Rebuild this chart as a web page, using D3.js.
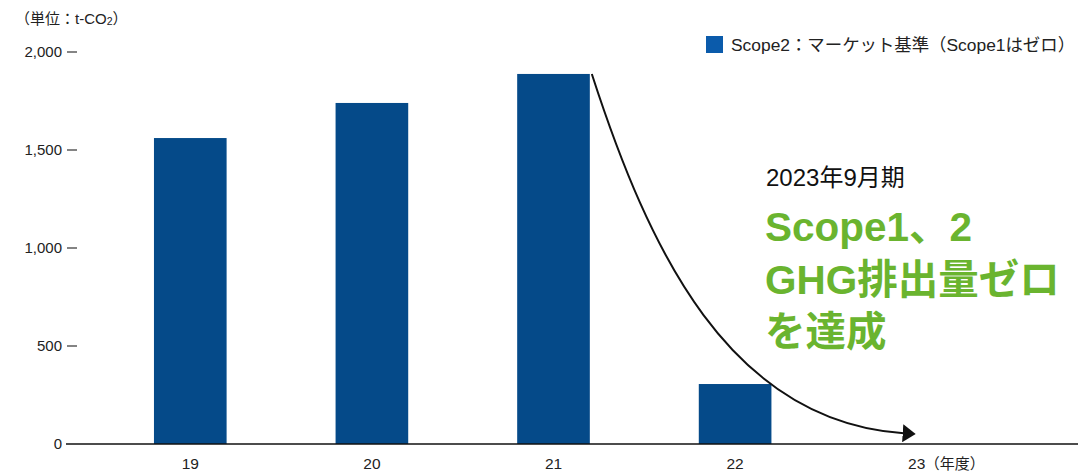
<!DOCTYPE html>
<html>
<head>
<meta charset="utf-8">
<script src="https://cdn.jsdelivr.net/npm/d3@7/dist/d3.min.js"></script>
<style>
  html, body { margin: 0; padding: 0; background: #fff; }
  svg { display: block; }
  text { font-family: "Liberation Sans", Arial, "Noto Sans CJK JP", sans-serif; }
</style>
</head>
<body>
<svg id="chart" width="1078" height="473"></svg>
<script>
// Fiscal years (last two digits) and Scope2 market-based emissions (t-CO2)
const years = ["19", "20", "21", "22", "23"];
const scope2Values = [1561, 1740, 1888, 306, 0];
const yTicks = [0, 500, 1000, 1500, 2000];
const unitLabel = "（単位：t-CO";
const legendLabel = "Scope2：マーケット基準（Scope1はゼロ）";
const periodLabel = "2023年9月期";
const headlineLines = ["Scope1、2", "GHG排出量ゼロ", "を達成"];
const yearSuffix = "（年度）";

const svg = d3.select("#chart");
const barColor = "#054a89";
const legendColor = "#0b5bab";
const green = "#6ab42f";

const x = d3.scaleBand().domain(years).range([45, 1062]).padding(0.6);
const y = d3.scaleLinear().domain([0, 2000]).range([444, 52]);

// Unit label
const unit = svg.append("text").attr("x", 15).attr("y", 24)
  .attr("font-size", 15).attr("fill", "#222");
unit.append("tspan").text(unitLabel);
unit.append("tspan").attr("font-size", 10.5).attr("dy", 1).text("2");
unit.append("tspan").attr("dy", -1).text("）");

// Y tick labels and dashes
const yg = svg.append("g");
yg.selectAll("text.tick").data(yTicks).join("text")
  .attr("class", "tick")
  .attr("x", 62).attr("y", d => y(d))
  .attr("dy", "0.36em")
  .attr("text-anchor", "end")
  .attr("font-size", 15).attr("fill", "#222")
  .text(d => d3.format(",")(d));
yg.selectAll("line").data(yTicks.filter(d => d > 0)).join("line")
  .attr("x1", 67).attr("x2", 77)
  .attr("y1", d => y(d)).attr("y2", d => y(d))
  .attr("stroke", "#333").attr("stroke-width", 1.2);

// Bars
svg.append("g").selectAll("rect").data(years.map((k, i) => ({k, v: scope2Values[i]})))
  .join("rect")
  .attr("x", d => x(d.k))
  .attr("y", d => y(d.v))
  .attr("width", x.bandwidth())
  .attr("height", d => y(0) - y(d.v))
  .attr("fill", barColor);

// Baseline
svg.append("line")
  .attr("x1", 66).attr("x2", 1078)
  .attr("y1", y(0)).attr("y2", y(0))
  .attr("stroke", "#111").attr("stroke-width", 1.5);

// X labels
svg.append("g").selectAll("text").data(years).join("text")
  .attr("x", d => x(d) + x.bandwidth() / 2)
  .attr("y", 469)
  .attr("text-anchor", "middle")
  .attr("font-size", 15.5).attr("fill", "#222")
  .text(d => d);
svg.append("text")
  .attr("x", x("23") + x.bandwidth() / 2 + 8)
  .attr("y", 469)
  .attr("font-size", 15).attr("fill", "#222")
  .text(yearSuffix);

// Legend
svg.append("rect").attr("x", 706).attr("y", 36).attr("width", 17).attr("height", 17)
  .attr("fill", legendColor);
svg.append("text").attr("x", 731).attr("y", 51)
  .attr("font-size", 17.4).attr("fill", "#222")
  .text(legendLabel);

// Reduction arrow from the FY21 bar down toward zero in FY23
svg.append("defs").append("marker")
  .attr("id", "arrowhead")
  .attr("markerUnits", "userSpaceOnUse")
  .attr("viewBox", "0 -9 13 18")
  .attr("refX", 1).attr("refY", 0)
  .attr("markerWidth", 13).attr("markerHeight", 18)
  .attr("orient", "auto")
  .append("path").attr("d", "M0,-9L13,0L0,9Z").attr("fill", "#111");

const p0 = [x("21") + x.bandwidth() + 2, y(scope2Values[2])];
const p3 = [x("23") + x.bandwidth() / 2 - 13, y(55)];
const path = d3.path();
path.moveTo(p0[0], p0[1]);
path.bezierCurveTo(p0[0] + 57, p0[1] + 176, p3[0] - 175, p3[1] - 12, p3[0], p3[1]);
svg.append("path")
  .attr("d", path.toString())
  .attr("fill", "none")
  .attr("stroke", "#111")
  .attr("stroke-width", 2)
  .attr("marker-end", "url(#arrowhead)");

// Annotation
svg.append("text").attr("x", 766).attr("y", 186)
  .attr("font-size", 24).attr("fill", "#111")
  .text(periodLabel);
svg.append("g").selectAll("text").data(headlineLines).join("text")
  .attr("x", 765)
  .attr("y", (d, i) => 241 + i * 52.5)
  .attr("font-size", 40.5).attr("font-weight", "bold")
  .attr("fill", green)
  .text(d => d);
</script>
</body>
</html>
